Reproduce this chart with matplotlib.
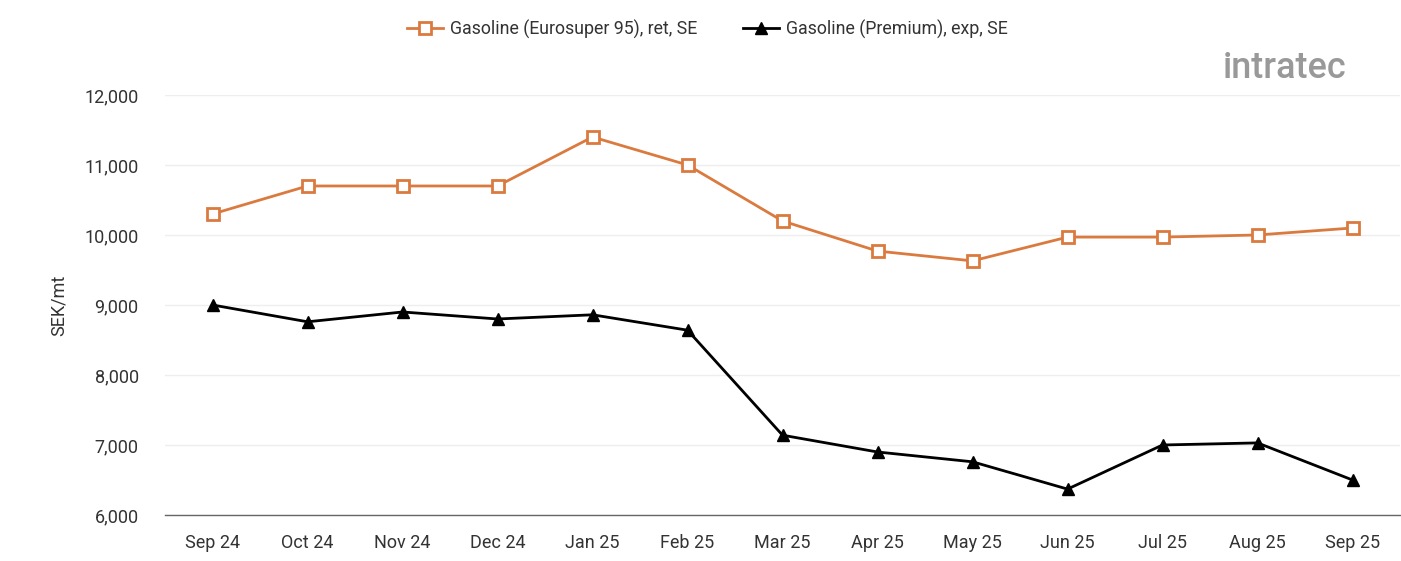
import matplotlib.pyplot as plt
from matplotlib.ticker import FuncFormatter

# Data
months = ['Sep 24', 'Oct 24', 'Nov 24', 'Dec 24', 'Jan 25', 'Feb 25', 'Mar 25',
          'Apr 25', 'May 25', 'Jun 25', 'Jul 25', 'Aug 25', 'Sep 25']
eurosuper_ret = [10300, 10700, 10700, 10700, 11400, 11000, 10200,
                 9770, 9630, 9970, 9970, 10000, 10100]
premium_exp = [9000, 8760, 8900, 8800, 8860, 8640, 7140,
               6900, 6760, 6370, 7000, 7030, 6500]
yticks = [6000, 7000, 8000, 9000, 10000, 11000, 12000]

plt.rcParams['font.family'] = ['Roboto', 'DejaVu Sans']

fig = plt.figure(figsize=(14.01, 5.61), dpi=100)
ax = fig.add_axes([0.1178, 0.082, 0.8815, 0.7487])

x = list(range(len(months)))
ax.plot(x, eurosuper_ret, color='#DB7A3E', linewidth=2, marker='s', markersize=8,
        markerfacecolor='white', markeredgecolor='#DB7A3E', markeredgewidth=2,
        label='Gasoline (Eurosuper 95), ret, SE', zorder=3)
ax.plot(x, premium_exp, color='black', linewidth=2, marker='^', markersize=9,
        label='Gasoline (Premium), exp, SE', zorder=3)

ax.set_xlim(-0.5, len(months) - 0.5)
ax.set_ylim(6000, 12000)
ax.set_xticks(x)
ax.set_xticklabels(months)
ax.set_yticks(yticks)
ax.yaxis.set_major_formatter(FuncFormatter(lambda v, p: f'{int(v):,}'))
ax.tick_params(axis='both', length=0, labelsize=13, colors='#333333')
ax.tick_params(axis='x', pad=14)
ax.tick_params(axis='y', pad=19)
ax.grid(axis='y', color='#EEEEEE', linewidth=1)
ax.set_axisbelow(True)
for s in ['top', 'right', 'left']:
    ax.spines[s].set_visible(False)
ax.spines['bottom'].set_color('#666666')
ax.spines['bottom'].set_linewidth(1)
ax.set_ylabel('SEK/mt', fontsize=13, color='#333333', labelpad=12)

fig.legend(loc='center', bbox_to_anchor=(0.505, 0.948), ncol=2, frameon=False,
           fontsize=12.8, handlelength=2, columnspacing=2.6, handletextpad=0.4,
           labelcolor='#333333')

# logo
fig.text(0.873, 0.878, 'intratec', fontsize=26, color='#999999', fontweight='medium',
         ha='left', va='center')

fig.savefig('out.png', dpi=100, facecolor='white')
